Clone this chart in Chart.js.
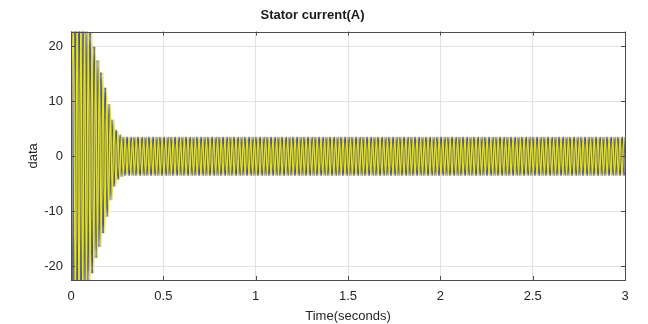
<!DOCTYPE html>
<html>
<head>
<meta charset="utf-8">
<script src="https://cdn.jsdelivr.net/npm/chart.js@4.4.1/dist/chart.umd.min.js"></script>
<style>
  html, body { margin: 0; padding: 0; background: #fff; }
  #wrap { width: 648px; height: 324px; }
</style>
</head>
<body>
<div id="wrap"><canvas id="myChart" width="648" height="324"></canvas></div>
<script>
// peak current of each half cycle (A), one entry per 10 ms from t = 0
var transientPeaks = [26, 30, 31, 30, 29, 28, 27, 26, 24, 23,
                      22.5, 21.3, 20, 18.5, 17.5, 16.5, 15.3, 14, 12.5, 11,
                      9.5, 8, 6.7, 5.5, 4.8, 4.2, 3.9, 3.7];
var steadyPeak = 3.5;
var halfCycle = 0.01;          // 50 Hz supply
// first dataset is drawn on top
var phaseShift = [0.01333, 0, 0.00667];
var phaseColors = ['#eaea00', '#6a6a6a', '#4848c8'];
var endTime = 3;
var xTicks = [0, 0.5, 1, 1.5, 2, 2.5, 3];
var yTicks = [-20, -10, 0, 10, 20];

function phasePeaks(shift) {
    var pts = [{x: 0, y: 0}];
    for (var k = 0; shift + k * halfCycle <= endTime; k++) {
        var a = k < transientPeaks.length ? transientPeaks[k] : steadyPeak;
        pts.push({x: shift + k * halfCycle, y: (k % 2 === 0 ? 1 : -1) * a});
    }
    return pts;
}

var datasets = phaseShift.map(function (s, i) {
    return {
        label: 'phase ' + (i + 1),
        data: phasePeaks(s),
        borderColor: phaseColors[i],
        borderWidth: 1.1,
        pointRadius: 0,
        fill: false,
        cubicInterpolationMode: 'monotone'
    };
});

// axes box with inward tick marks
var axesBox = {
    id: 'axesBox',
    afterDatasetsDraw: function (chart) {
        var c = chart.ctx, a = chart.chartArea;
        var xs = chart.scales.x, ys = chart.scales.y;
        c.save();
        c.strokeStyle = '#4d4d4d';
        c.lineWidth = 1;
        c.beginPath();
        xTicks.forEach(function (v) {
            var px = Math.round(xs.getPixelForValue(v)) + 0.5;
            c.moveTo(px, a.bottom); c.lineTo(px, a.bottom - 4);
            c.moveTo(px, a.top); c.lineTo(px, a.top + 4);
        });
        yTicks.forEach(function (v) {
            var py = Math.round(ys.getPixelForValue(v)) + 0.5;
            c.moveTo(a.left, py); c.lineTo(a.left + 4, py);
            c.moveTo(a.right, py); c.lineTo(a.right - 4, py);
        });
        c.stroke();
        c.strokeRect(Math.round(a.left) + 0.5, Math.round(a.top) + 0.5,
                     Math.round(a.right - a.left), Math.round(a.bottom - a.top));
        c.restore();
    }
};

var tickFont = { family: 'Liberation Sans, Arial', size: 13 };

var ctx = document.getElementById('myChart').getContext('2d');
var myChart = new Chart(ctx, {
    type: 'line',
    data: { datasets: datasets },
    options: {
        responsive: false,
        animation: false,
        layout: { padding: { left: 0, right: 23, top: 0, bottom: 0 } },
        plugins: {
            legend: { display: false },
            tooltip: { enabled: false },
            title: {
                display: true,
                text: 'Stator current(A)',
                color: '#1a1a1a',
                font: { family: 'Liberation Sans, Arial', size: 13, weight: 'bold' },
                padding: { top: 8, bottom: 8 }
            }
        },
        scales: {
            x: {
                type: 'linear',
                min: 0,
                max: endTime,
                afterBuildTicks: function (s) { s.ticks = xTicks.map(function (v) { return {value: v}; }); },
                afterFit: function (s) { s.height = 44; },
                grid: { color: '#e3e3e3', drawTicks: false },
                border: { display: false },
                ticks: {
                    padding: 9,
                    color: '#262626',
                    maxRotation: 0,
                    font: tickFont,
                    callback: function (v) { return String(v); }
                },
                title: {
                    display: true,
                    text: 'Time(seconds)',
                    color: '#262626',
                    font: tickFont,
                    padding: { top: 4, bottom: 0 }
                }
            },
            y: {
                min: -22.5,
                max: 22.7,
                afterBuildTicks: function (s) { s.ticks = yTicks.map(function (v) { return {value: v}; }); },
                afterFit: function (s) { s.width = 71; },
                grid: { color: '#e3e3e3', drawTicks: false },
                border: { display: false },
                ticks: {
                    padding: 8,
                    color: '#262626',
                    font: tickFont,
                    callback: function (v) { return String(v); }
                },
                title: {
                    display: true,
                    text: 'data',
                    color: '#262626',
                    font: tickFont,
                    padding: { top: 26, bottom: 0 }
                }
            }
        }
    },
    plugins: [axesBox]
});
</script>
</body>
</html>
